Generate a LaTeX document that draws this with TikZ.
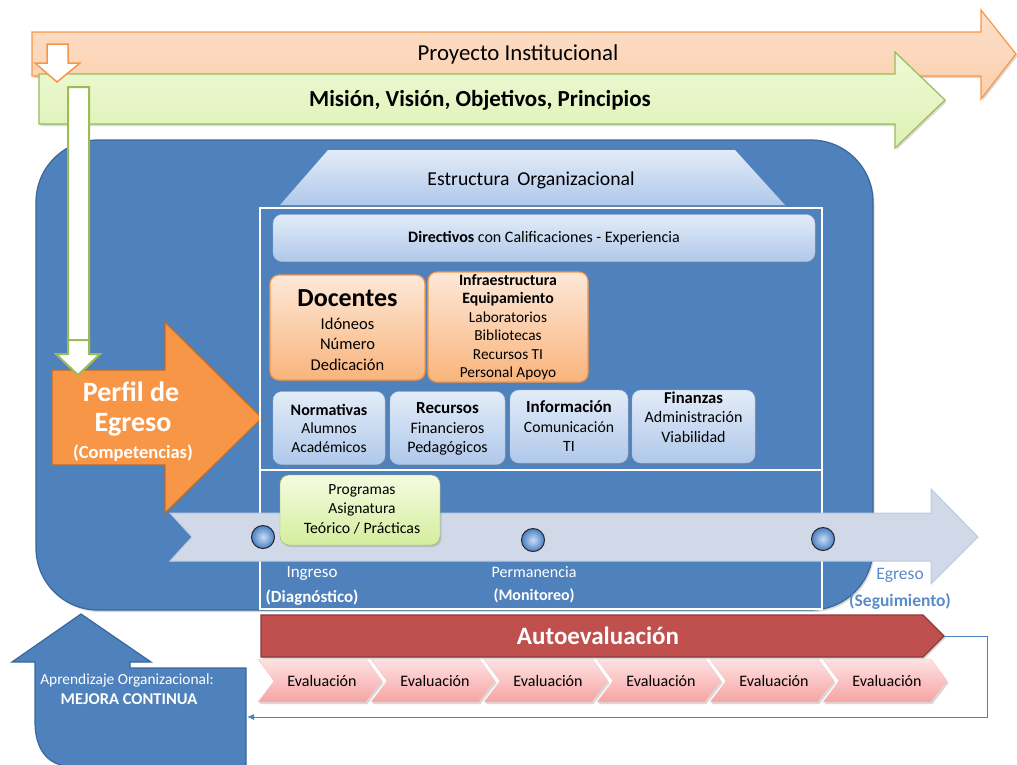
\documentclass[tikz,border=0pt]{standalone}
\usepackage{fontspec}
\setmainfont{Carlito}
\usetikzlibrary{shadows,arrows.meta}

\definecolor{peachtop}{HTML}{FDE0CA}
\definecolor{peachbot}{HTML}{FBCFAD}
\definecolor{orangeline}{HTML}{F79646}
\definecolor{limetop}{HTML}{EEF9D6}
\definecolor{limebot}{HTML}{DDF2B4}
\definecolor{limeline}{HTML}{9BBB59}
\definecolor{mainblue}{HTML}{4F81BD}
\definecolor{mainblueline}{HTML}{3A679C}
\definecolor{paletop}{HTML}{E3ECF8}
\definecolor{palebot}{HTML}{AFC8EA}
\definecolor{paleline}{HTML}{A9C0E0}
\definecolor{boxorangetop}{HTML}{FDE8D8}
\definecolor{boxorangebot}{HTML}{F9B47C}
\definecolor{perfil}{HTML}{F79646}
\definecolor{perfilline}{HTML}{B96E2E}
\definecolor{timeline}{HTML}{D1D9E8}
\definecolor{timelineline}{HTML}{B9CBE3}
\definecolor{progtop}{HTML}{F4FBDF}
\definecolor{progbot}{HTML}{D4EE9E}
\definecolor{autored}{HTML}{C0504D}
\definecolor{autoline}{HTML}{8C3836}
\definecolor{chevtop}{HTML}{FFE2E2}
\definecolor{chevbot}{HTML}{F5A4A4}
\definecolor{chevline}{HTML}{F6C8C8}
\definecolor{egreso}{HTML}{5A8BC8}
\definecolor{ballin}{HTML}{C9DCF4}
\definecolor{ballout}{HTML}{4A7FC4}

\newcommand{\setfs}[2]{\fontsize{#1}{#2}\selectfont}

\begin{document}
\begin{tikzpicture}[x=1pt,y=1pt,
  softshadow/.style={drop shadow={opacity=0.3,shadow xshift=1.5pt,shadow yshift=-2pt}},
  tbox/.style={rounded corners=9pt, align=center, inner sep=0pt, softshadow},
  bluebox/.style={tbox, draw=paleline, top color=paletop, bottom color=palebot},
  orangebox/.style={tbox, draw=orangeline, line width=1.2pt, top color=boxorangetop, bottom color=boxorangebot},
  greenbox/.style={tbox, draw=limeline, top color=progtop, bottom color=progbot},
  chevshape/.style={draw=chevline, top color=chevtop, bottom color=chevbot, softshadow},
  whitetxt/.style={text=white, align=center},
  milestone/.style={circle, minimum size=23pt, inner sep=0pt, draw=black!85, line width=1pt,
    shading=radial, inner color=ballin, outer color=ballout},
  fbline/.style={draw=mainblue, line width=0.9pt}
]
\useasboundingbox (0,0) rectangle (1017,-764);

% Proyecto Institucional band
\path[draw=orangeline, line width=1.2pt, top color=peachtop, bottom color=peachbot, softshadow]
  (32,-32) -- (981,-32) -- (981,-10) -- (1016,-54) -- (981,-99) -- (981,-76) -- (32,-76) -- cycle;
\node (proy) at (518,-54) {\setfs{22.8}{24}Proyecto Institucional};

% Mision band
\path[draw=limeline, line width=1.2pt, top color=limetop, bottom color=limebot, softshadow]
  (39,-74) -- (895,-74) -- (895,-52) -- (945,-100) -- (895,-148) -- (895,-124) -- (39,-124) -- cycle;
\node (mision) at (480,-100) {\setfs{23}{25}\bfseries Misión, Visión, Objetivos, Principios};

% small down arrow
\path[draw=orangeline, line width=1.5pt, fill=white]
  (47,-44) -- (68,-44) -- (68,-63) -- (80,-63) -- (57,-82) -- (35,-63) -- (47,-63) -- cycle;

% main blue panel
\path[fill=mainblue, draw=mainblueline, line width=1.2pt, rounded corners=62pt, softshadow]
  (36,-140) rectangle (873,-610);

% long down arrow
\path[draw=limeline, line width=2pt, fill=white]
  (68,-87) -- (89,-87) -- (89,-354) -- (100,-354) -- (78,-375) -- (56,-354) -- (68,-354) -- cycle;

% Perfil de Egreso arrow
\path[fill=perfil, draw=perfilline, line width=1.2pt]
  (52,-370) -- (165,-370) -- (165,-322) -- (262,-418) -- (165,-513) -- (165,-465) -- (52,-465) -- cycle;
\path[draw=limeline, line width=2pt, fill=white]
  (68,-340) -- (89,-340) -- (89,-354) -- (100,-354) -- (78,-375) -- (56,-354) -- (68,-354) -- cycle;
\node[whitetxt] (perfil1) at (131,-392) {\setfs{28}{30}\bfseries Perfil de};
\node[whitetxt] (perfil2) at (133,-425) {\setfs{28}{30}\bfseries Egreso};
\node[whitetxt] (perfil3) at (133,-453) {\setfs{18.5}{20}\bfseries (Competencias)};

% Estructura Organizacional roof
\path[top color=paletop, bottom color=palebot, softshadow]
  (280,-205) -- (328,-150) -- (735,-150) -- (785,-205) -- cycle;
\node (estr) at (531,-180) {\setfs{19.7}{21}Estructura\, Organizacional};

% white frames
\draw[white, line width=1.5pt] (260,-208) rectangle (822,-470);
\draw[white, line width=1.5pt] (260,-470) rectangle (822,-609);

% structure boxes
\node[bluebox, minimum width=542pt, minimum height=47pt] (dir) at (544,-238)
  {\setfs{16}{18}\textbf{Directivos} con Calificaciones - Experiencia};
\node[orangebox, minimum width=155pt, minimum height=105pt] (doc) at (347.5,-327.5) {};
\node[align=center, font=\setfs{16.5}{20.5}] (doct) at (347.5,-330)
  {{\setfs{26}{26}\bfseries Docentes}\\[2pt]Idóneos\\Número\\Dedicación};
\node[orangebox, minimum width=160pt, minimum height=110pt] (inf) at (508,-327) {};
\node[align=center, font=\setfs{15.3}{18.5}] (inft) at (508,-327)
  {{\setfs{15.8}{18.5}\bfseries Infraestructura}\\{\setfs{15.8}{18.5}\bfseries Equipamiento}\\Laboratorios\\Bibliotecas\\Recursos TI\\Personal Apoyo};
\node[bluebox, minimum width=112pt, minimum height=73pt] (norm) at (329,-428) {};
\node[align=center, font=\setfs{15.5}{18.5}] (normt) at (329,-428)
  {{\setfs{16}{18.5}\bfseries Normativas}\\Alumnos\\Académicos};
\node[bluebox, minimum width=115pt, minimum height=73pt] (rec) at (447.5,-428) {};
\node[align=center, font=\setfs{16}{19.5}] (rect) at (447.5,-429)
  {{\setfs{17}{19.5}\bfseries Recursos}\\Financieros\\Pedagógicos};
\node[bluebox, minimum width=118pt, minimum height=73pt] (info) at (569,-426.5) {};
\node[align=center, font=\setfs{15.7}{19.5}] (infot) at (569,-426.5)
  {{\setfs{17}{19.5}\bfseries Información}\\Comunicación\\TI};
\node[bluebox, minimum width=123pt, minimum height=73pt] (fin) at (693.5,-426.5) {};
\node[align=center, font=\setfs{16}{19.5}] (fint) at (693.5,-417)
  {{\setfs{16.6}{19.5}\bfseries Finanzas}\\Administración\\Viabilidad};

% student timeline
\path[fill=timeline, draw=timelineline, line width=1pt]
  (170,-513) -- (931,-513) -- (931,-489) -- (978,-537) -- (931,-584) -- (931,-561)
  -- (170,-561) -- (192,-537) -- cycle;
\node[greenbox, minimum width=160pt, minimum height=70pt] (prog) at (360,-510) {};
\node[align=center, font=\setfs{15.5}{19.5}] (progt) at (362,-509)
  {Programas\\Asignatura\\{\setfs{15.8}{19.5}Teórico / Prácticas}};
\node[milestone] (ingreso) at (263,-537) {};
\node[milestone] (perm) at (533,-540) {};
\node[milestone] (egr) at (823,-539) {};
\node[text=white] (l1) at (312,-573) {\setfs{17}{18}Ingreso};
\node[text=white] (l2) at (312,-598) {\setfs{17}{18}\bfseries (Diagnóstico)};
\node[text=white] (l3) at (534,-572) {\setfs{16}{18}Permanencia};
\node[text=white] (l4) at (534,-596) {\setfs{16}{18}\bfseries (Monitoreo)};
\node[text=egreso] (l5) at (900,-575) {\setfs{17.5}{19}Egreso};
\node[text=egreso] (l6) at (900,-601) {\setfs{17.5}{19}\bfseries (Seguimiento)};

% Autoevaluacion band
\path[fill=autored, draw=autoline, line width=1.2pt, softshadow]
  (261,-615) -- (923,-615) -- (944,-636) -- (923,-657) -- (261,-657) -- cycle;
\coordinate (autotip) at (944,-636);
\node[text=white] (auto) at (598,-636) {\setfs{25}{27}\bfseries Autoevaluación};

% evaluation chevrons
\foreach \i in {0,...,5} {
  \pgfmathsetmacro{\lx}{258+113*\i}
  \path[chevshape] (\lx,-659) -- (\lx+108,-659) -- (\lx+124,-681) -- (\lx+108,-702)
    -- (\lx,-702) -- (\lx+16,-681) -- cycle;
  \node (ev\i) at (\lx+64,-681) {\setfs{16}{18}Evaluación};
}

% organizational learning arrow
\path[fill=mainblue, draw=mainblueline, line width=1.2pt]
  (12,-662) -- (81,-614) -- (151,-662) -- (130,-662) -- (130,-668) -- (246,-668)
  -- (246,-766) -- (70,-766) .. controls (47,-766) and (35,-748) .. (35,-722)
  -- (35,-662) -- cycle;
\coordinate (learnR) at (247,-717);
\node[text=white] (ap1) at (127,-680) {\setfs{15.4}{17}Aprendizaje Organizacional:};
\node[text=white] (ap2) at (129,-699) {\setfs{16.5}{18}\bfseries MEJORA CONTINUA};

% feedback loop
\coordinate (fbA) at (987,-636);
\coordinate (fbB) at (987,-717);
\draw[fbline, -{Latex[length=7pt,width=6pt]}] (autotip) -- (fbA) -- (fbB) -- (learnR);
\end{tikzpicture}
\end{document}
